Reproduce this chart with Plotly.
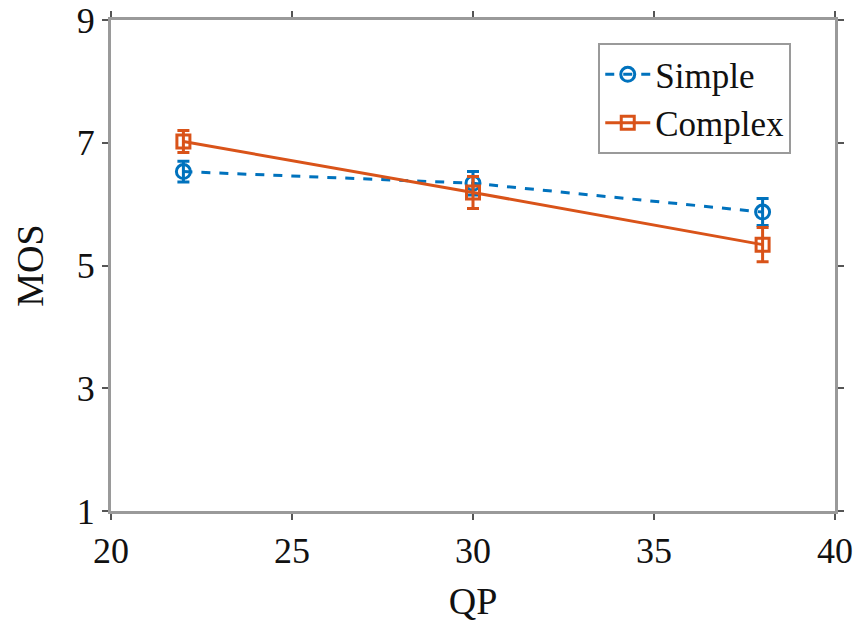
import plotly.graph_objects as go

qp = [22, 30, 38]
simple_mos = [6.53, 6.34, 5.87]
simple_err = [0.17, 0.19, 0.22]
complex_mos = [7.02, 6.19, 5.34]
complex_err = [0.18, 0.26, 0.28]

blue = "#0072BD"
orange = "#D95319"
font_family = "Liberation Serif"

fig = go.Figure()
fig.add_trace(go.Scatter(
    x=qp, y=simple_mos, name="Simple", mode="lines+markers",
    line=dict(color=blue, width=3, dash="dash"),
    marker=dict(symbol="circle-open", size=14, color=blue, line=dict(width=3)),
    error_y=dict(type="data", array=simple_err, color=blue, thickness=3, width=6),
))
fig.add_trace(go.Scatter(
    x=qp, y=complex_mos, name="Complex", mode="lines+markers",
    line=dict(color=orange, width=3),
    marker=dict(symbol="square-open", size=13, color=orange, line=dict(width=3)),
    error_y=dict(type="data", array=complex_err, color=orange, thickness=3, width=6),
))

axis_common = dict(
    showgrid=False, zeroline=False, showline=True, linecolor="#9a9a9a", linewidth=3,
    mirror="ticks", ticks="outside", ticklen=6, tickwidth=1.5, tickcolor="#555",
    tickfont=dict(family=font_family, size=36, color="#111"), automargin=False,
)
fig.update_xaxes(range=[20, 40], tickvals=[20, 25, 30, 35, 40],
                 title=dict(text="QP", font=dict(family=font_family, size=38, color="#111"), standoff=18),
                 **axis_common)
fig.update_yaxes(range=[1, 9], tickvals=[1, 3, 5, 7, 9],
                 title=dict(text="MOS", font=dict(family=font_family, size=38, color="#111"), standoff=22),
                 **axis_common)

fig.update_layout(
    width=854, height=629,
    margin=dict(l=111, r=19, t=20, b=118),
    paper_bgcolor="white", plot_bgcolor="white",
    font=dict(family=font_family, color="#111"),
    legend=dict(x=0.673, y=0.953, xanchor="left", yanchor="top",
                bgcolor="white", bordercolor="#9a9a9a", borderwidth=2,
                font=dict(family=font_family, size=35, color="#111"),
                itemwidth=45, tracegroupgap=0),
    showlegend=True,
)

fig.write_html("out.html")
